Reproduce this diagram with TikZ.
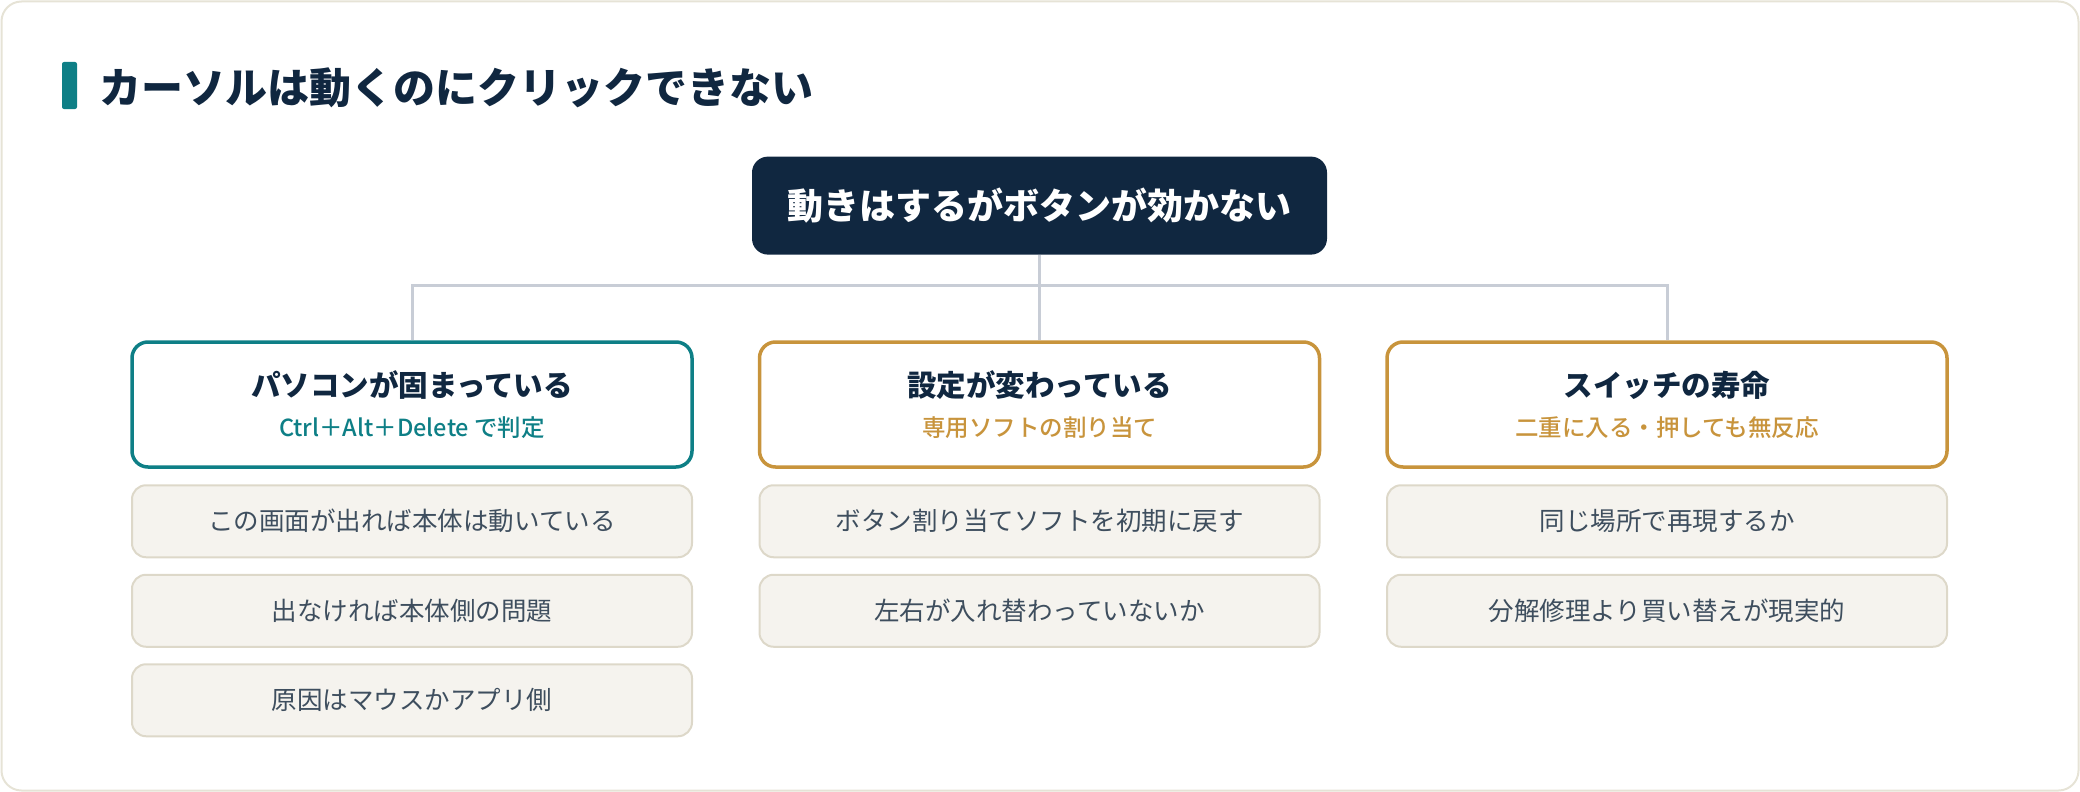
\documentclass[tikz,border=0pt]{standalone}
\usepackage{fontspec}
\setmainfont{Noto Sans CJK JP}
\newfontfamily\subfont{Noto Sans CJK JP Medium}
\usepackage{tikz}
\usetikzlibrary{
  positioning
}
\definecolor{navy}{RGB}{16,39,64}
\definecolor{teal}{RGB}{14,127,134}
\definecolor{gold}{RGB}{200,148,60}
\definecolor{paper}{RGB}{245,243,238}
\definecolor{paperline}{RGB}{221,216,201}
\definecolor{framec}{RGB}{230,227,214}
\definecolor{linkgray}{RGB}{200,205,214}
\definecolor{itemtext}{RGB}{62,78,94}
\newcommand{\cattext}[3]{{\color{navy}\bfseries #1}\\{\color{#3}\subfont\fontsize{23.5}{28}\selectfont #2}}

\begin{document}
\begin{tikzpicture}[
  x=1pt, y=-1pt,
  node distance=15.5pt,
  root/.style={
    rounded corners=16pt,
    fill=navy,
    text=white,
    font=\fontsize{36}{42}\selectfont\bfseries,
    minimum width=575pt,
    minimum height=98pt
  },
  cat/.style={
    rounded corners=16pt,
    draw=#1,
    line width=3.5pt,
    fill=white,
    align=center,
    font=\fontsize{29.5}{40}\selectfont,
    minimum width=560pt,
    minimum height=125pt
  },
  item/.style={
    rounded corners=14pt,
    draw=paperline,
    line width=2pt,
    fill=paper,
    text=itemtext,
    font=\fontsize{25.5}{30}\selectfont,
    minimum width=560pt,
    minimum height=72pt
  },
  link/.style={linkgray, line width=3pt}
]

\useasboundingbox (0,0) rectangle (2080,792);
\draw[framec, line width=2pt, rounded corners=20pt] (1.5,1.5) rectangle (2078.5,790.5);

% heading
\fill[teal, rounded corners=2pt] (62,62) rectangle (77,109);
\node[anchor=west, text=navy, font=\fontsize{42}{48}\selectfont\bfseries, inner sep=0pt] (title) at (99,87.5) {カーソルは動くのにクリックできない};

\node[root] (root) at (1039.5,205.6) {動きはするがボタンが効かない};

\node[cat=gold] (catB) at (1039.5,404.5) {\cattext{設定が変わっている}{専用ソフトの割り当て}{gold}};
\node[cat=teal, left=64pt of catB] (catA) {\cattext{パソコンが固まっている}{Ctrl＋Alt＋Delete で判定}{teal}};
\node[cat=gold, right=64pt of catB] (catC) {\cattext{スイッチの寿命}{二重に入る・押しても無反応}{gold}};

\coordinate (bus) at (1039.5,285);
\draw[link] (root.south) -- (catB.north);
\draw[link] (catA.north) -- (catA.north |- bus) -- (catC.north |- bus) -- (catC.north);

\node[item, below=of catA] (a1) {この画面が出れば本体は動いている};
\node[item, below=of a1] (a2) {出なければ本体側の問題};
\node[item, below=of a2] (a3) {原因はマウスかアプリ側};

\node[item, below=of catB] (b1) {ボタン割り当てソフトを初期に戻す};
\node[item, below=of b1] (b2) {左右が入れ替わっていないか};

\node[item, below=of catC] (c1) {同じ場所で再現するか};
\node[item, below=of c1] (c2) {分解修理より買い替えが現実的};

\end{tikzpicture}
\end{document}
